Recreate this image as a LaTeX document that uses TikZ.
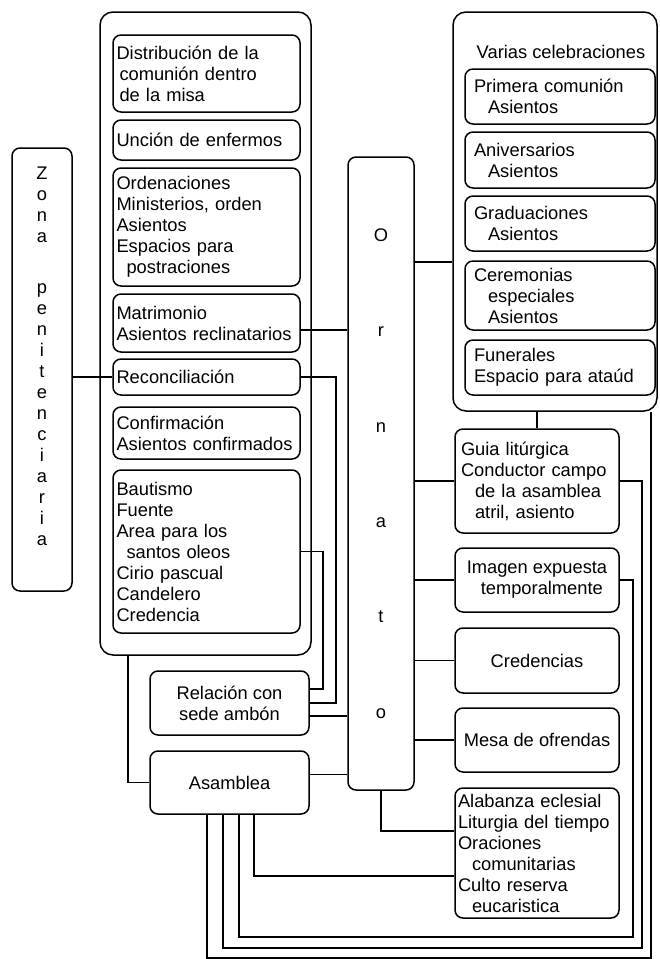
\documentclass[tikz,border=0pt]{standalone}
\usepackage{fontspec}
\setmainfont{Liberation Sans}
\hyphenpenalty=10000

\tikzset{
  caja/.style={draw, rounded corners=8pt, inner xsep=6pt, inner ysep=0pt, align=left},
  marco/.style={draw, rounded corners=13pt, inner sep=0pt},
  letras/.style={align=center, inner sep=0pt},
}

\begin{document}
\begin{tikzpicture}[x=1pt, y=-1pt, line width=1.5pt, font=\fontsize{18.3}{21}\selectfont]
  \useasboundingbox (0,0) rectangle (659,959);
  % marcos grandes
  \node[marco, minimum width=211pt, minimum height=643pt] (contIzq) at (205.5,333.5) {};
  \node[marco, minimum width=204pt, minimum height=399pt] (contDer) at (555,211.5) {};
  % zona penitenciaria
  \node[caja, minimum width=60pt, minimum height=443pt] (zona) at (42,369.5) {};
  \node[letras] (zonaTxt) at (42,356) {Z\\o\\n\\a\\[30pt]p\\e\\n\\i\\t\\e\\n\\c\\i\\a\\r\\i\\a};
  % sacramentos (columna izquierda)
  \node[caja, inner xsep=3.5pt, minimum width=187pt, minimum height=77pt, text width=180pt] (distribucion) at (206.5,73.5)
    {Distribución de la\\\hspace*{3pt}comunión dentro\\\hspace*{3pt}de la misa};
  \node[caja, inner xsep=3.5pt, minimum width=187pt, minimum height=40pt, text width=180pt] (uncion) at (206.5,140)
    {Unción de enfermos};
  \node[caja, inner xsep=3.5pt, minimum width=187pt, minimum height=118pt, text width=180pt] (ordenaciones) at (206.5,227)
    {Ordenaciones\\Ministerios, orden\\Asientos\\Espacios para\\\hspace*{10pt}postraciones};
  \node[caja, inner xsep=3.5pt, minimum width=187pt, minimum height=58pt, text width=180pt] (matrimonio) at (206.5,323)
    {Matrimonio\\Asientos reclinatarios};
  \node[caja, inner xsep=3.5pt, minimum width=187pt, minimum height=36pt, text width=180pt] (reconciliacion) at (206.5,377)
    {Reconciliación};
  \node[caja, inner xsep=3.5pt, minimum width=187pt, minimum height=52pt, text width=180pt] (confirmacion) at (206.5,433)
    {Confirmación\\Asientos confirmados};
  \node[caja, inner xsep=3.5pt, minimum width=187pt, minimum height=163pt, text width=180pt] (bautismo) at (206.5,551.5)
    {Bautismo\\Fuente\\Area para los\\\hspace*{10pt}santos oleos\\Cirio pascual\\Candelero\\Credencia};
  % ornato
  \node[caja, align=center, minimum width=66pt, minimum height=633pt,
    font=\fontsize{18.3}{95.4}\selectfont] (ornato) at (381,473.5) {O\\r\\n\\a\\t\\o};
  % varias celebraciones
  \node[letras] (titCel) at (561,52) {Varias celebraciones};
  \node[caja, inner xsep=9pt, minimum width=190pt, minimum height=55pt, text width=172pt] (primera) at (560,96.5)
    {Primera comunión\\\hspace*{14pt}Asientos};
  \node[caja, inner xsep=9pt, minimum width=190pt, minimum height=56pt, text width=172pt] (aniversarios) at (560,160)
    {Aniversarios\\\hspace*{14pt}Asientos};
  \node[caja, inner xsep=9pt, minimum width=190pt, minimum height=55pt, text width=172pt] (graduaciones) at (560,223.5)
    {Graduaciones\\\hspace*{14pt}Asientos};
  \node[caja, inner xsep=9pt, minimum width=190pt, minimum height=69pt, text width=172pt] (ceremonias) at (560,295.5)
    {Ceremonias\\\hspace*{14pt}especiales\\\hspace*{14pt}Asientos};
  \node[caja, inner xsep=9pt, minimum width=190pt, minimum height=55pt, text width=172pt] (funerales) at (560,367.5)
    {Funerales\\Espacio para ataúd};
  % columna derecha
  \node[caja, minimum width=164pt, minimum height=104pt, text width=152pt] (guia) at (537,481)
    {Guia litúrgica\\Conductor campo\\\hspace*{14pt}de la asamblea\\\hspace*{14pt}atril, asiento};
  \node[caja, minimum width=164pt, minimum height=64pt] (imagen) at (537,580)
    {Imagen expuesta\\\hspace*{14pt}temporalmente};
  \node[caja, align=center, minimum width=164pt, minimum height=65pt] (credencias) at (537,660.5) {Credencias};
  \node[caja, align=center, minimum width=164pt, minimum height=64pt] (mesa) at (537,740) {Mesa de ofrendas};
  \node[caja, inner xsep=3pt, minimum width=164pt, minimum height=130pt, text width=158pt] (alabanza) at (537,853)
    {Alabanza eclesial\\Liturgia del tiempo\\Oraciones\\\hspace*{14pt}comunitarias\\Culto reserva\\\hspace*{14pt}eucaristica};
  % abajo
  \node[caja, align=center, minimum width=159pt, minimum height=64pt] (relacion) at (229.5,703)
    {Relación con\\sede ambón};
  \node[caja, align=center, minimum width=159pt, minimum height=63pt] (asamblea) at (229.5,782.5) {Asamblea};

  % conexiones
  \coordinate (mat) at ([yshift=-7pt]matrimonio.east);
  \coordinate (cel) at ([yshift=-50.5pt]contDer.west);
  \coordinate (rel) at ([yshift=-13pt]relacion.east);
  \coordinate (asa) at ([yshift=8pt]asamblea.east);
  \draw (reconciliacion.west) -- (reconciliacion.west -| zona.east);
  \draw (mat) -- (mat -| ornato.west);
  \draw (cel) -- (cel -| ornato.east);
  \draw (contDer.south -| guia.north) -- (guia.north);
  \draw (guia.west) -- (guia.west -| ornato.east);
  \draw (imagen.west) -- (imagen.west -| ornato.east);
  \draw (credencias.west) -- (credencias.west -| ornato.east);
  \draw (mesa.west) -- (mesa.west -| ornato.east);
  \draw (ornato.south) |- ([yshift=22pt]alabanza.west);
  \draw (rel) -- (rel -| ornato.west);
  \draw (asa) -- (asa -| ornato.west);
  \draw ([xshift=-77.5pt]contIzq.south) |- (asamblea.west);
  \draw (bautismo.east) -- ++(22,0) |- ([yshift=14pt]relacion.east);
  \draw (reconciliacion.east) -- ++(35,0) |- (relacion.east);
  % lazos de la asamblea
  \draw ([xshift=24.5pt]asamblea.south) |- ([yshift=-23pt]alabanza.west);
  \draw ([xshift=9.5pt]asamblea.south) -- ++(0,122) -| ([xshift=13pt]imagen.east) -- (imagen.east);
  \draw ([xshift=-6.5pt]asamblea.south) -- ++(0,133) -| ([xshift=22pt]guia.east) -- (guia.east);
  \draw ([xshift=-22.5pt]asamblea.south) -- ++(0,143) -| ([xshift=96pt]contDer.south);
\end{tikzpicture}
\end{document}
